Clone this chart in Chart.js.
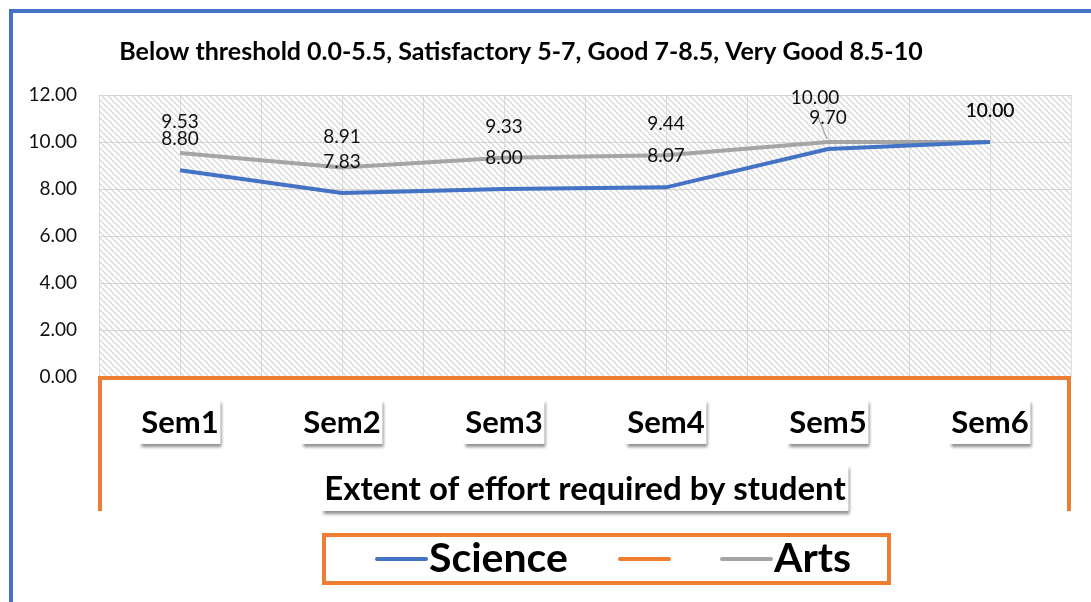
<!DOCTYPE html>
<html><head><meta charset="utf-8">
<script src="https://cdn.jsdelivr.net/npm/chart.js@4.4.1/dist/chart.umd.min.js"></script>
<style>
html,body{margin:0;padding:0;background:#fff;}
#wrap{position:relative;width:1091px;height:602px;overflow:hidden;}
#frame{position:absolute;left:9px;top:9px;width:1200px;height:700px;border-left:4px solid #4472C4;border-top:4px solid #4472C4;pointer-events:none;}
canvas{position:absolute;left:0;top:0;}
</style></head>
<body><div id="wrap"><canvas id="c" width="1091" height="602"></canvas><div id="frame"></div></div>
<script>
const titleText = 'Below threshold 0.0-5.5, Satisfactory 5-7, Good 7-8.5, Very Good 8.5-10';
const xAxisTitle = 'Extent of effort required by student';
const categories = ['Sem1','Sem2','Sem3','Sem4','Sem5','Sem6'];
const science = [8.80, 7.83, 8.00, 8.07, 9.70, 10.00];
const emptySeries = [];
const arts = [9.53, 8.91, 9.33, 9.44, 10.00, 10.00];
const yTicks = [0, 2, 4, 6, 8, 10, 12];

const FONT = 'Lato, "Open Sans", sans-serif';

function makePattern(ctx){
  const s = 6;
  const c = document.createElement('canvas'); c.width = s; c.height = s;
  const g = c.getContext('2d');
  g.fillStyle = '#ffffff'; g.fillRect(0,0,s,s);
  g.strokeStyle = '#dadada'; g.lineWidth = 1.5;
  for (const off of [-s, 0, s]) { g.beginPath(); g.moveTo(off, 0); g.lineTo(off + s, s); g.stroke(); }
  return ctx.createPattern(c, 'repeat');
}

function boxedText(ctx, text, cx, cy, font, padX, h){
  ctx.save();
  ctx.font = font;
  const w = ctx.measureText(text).width + padX*2;
  const x = Math.round(cx - w/2), y = Math.round(cy - h/2);
  ctx.shadowColor = 'rgba(0,0,0,0.45)'; ctx.shadowBlur = 3; ctx.shadowOffsetX = 2; ctx.shadowOffsetY = 3;
  ctx.fillStyle = '#fff'; ctx.fillRect(x, y, w, h);
  ctx.shadowColor = 'transparent';
  ctx.fillStyle = '#000'; ctx.textAlign = 'center'; ctx.textBaseline = 'middle';
  ctx.fillText(text, cx, cy + 1);
  ctx.restore();
}

const decor = {
  id: 'decor',
  beforeDraw(chart){
    const {ctx, chartArea:a, scales} = chart;
    ctx.save();
    ctx.fillStyle = makePattern(ctx);
    ctx.fillRect(a.left, a.top, a.right - a.left, a.bottom - a.top);
    ctx.strokeStyle = 'rgba(200,200,200,0.6)'; ctx.lineWidth = 1;
    categories.forEach((c,i)=>{
      const x = Math.round(scales.x.getPixelForValue(i)) + 0.5;
      ctx.beginPath(); ctx.moveTo(x, a.top); ctx.lineTo(x, a.bottom); ctx.stroke();
    });
    ctx.restore();
  },
  afterDraw(chart){
    const {ctx, chartArea:a, scales} = chart;
    ctx.save();
    ctx.font = 'bold 25px ' + FONT; ctx.fillStyle = '#000';
    ctx.textAlign = 'center'; ctx.textBaseline = 'middle';
    ctx.fillText(titleText, 521, 52);
    ctx.strokeStyle = '#ED7D31'; ctx.lineWidth = 4; ctx.lineJoin = 'miter';
    ctx.beginPath();
    ctx.moveTo(a.left + 1, 511); ctx.lineTo(a.left + 1, a.bottom + 1); ctx.lineTo(a.right - 2, a.bottom + 1); ctx.lineTo(a.right - 2, 511);
    ctx.stroke();
    categories.forEach((c,i)=>{
      boxedText(ctx, c, scales.x.getPixelForValue(i), 422, 'bold 31px ' + FONT, 2, 44);
    });
    boxedText(ctx, xAxisTitle, (a.left + a.right)/2, 488, 'bold 33px ' + FONT, 3, 46);
    // legend
    ctx.strokeStyle = '#ED7D31'; ctx.lineWidth = 4;
    ctx.strokeRect(324, 535, 565, 48);
    const items = chart.data.datasets;
    const lx = [377, 620, 722];
    ctx.font = 'bold 41px ' + FONT; ctx.textAlign = 'left'; ctx.textBaseline = 'middle';
    items.forEach((d, k)=>{
      ctx.strokeStyle = d.borderColor; ctx.lineWidth = 4; ctx.lineCap = 'round';
      ctx.beginPath(); ctx.moveTo(lx[k], 559); ctx.lineTo(lx[k] + 49, 559); ctx.stroke();
      ctx.fillStyle = '#000';
      if (d.label) ctx.fillText(d.label, lx[k] + 52, 559);
    });
    ctx.restore();
  },
  afterDatasetsDraw(chart){
    const {ctx} = chart;
    ctx.save();
    ctx.font = '19px ' + FONT; ctx.fillStyle = '#111';
    ctx.textAlign = 'center'; ctx.textBaseline = 'middle';
    categories.forEach((c, i)=>{
      const labs = [];
      chart.data.datasets.forEach((d, k)=>{
        if (d.data[i] === undefined) return;
        const el = chart.getDatasetMeta(k).data[i];
        labs.push({v: d.data[i], x: el.x, px: el.x, py: el.y, y: el.y - 31, lead: false});
      });
      for (let p = 0; p < labs.length; p++) for (let q = 0; q < labs.length; q++) {
        if (p === q) continue;
        const A = labs[p], B = labs[q];
        const dy = Math.abs(A.y - B.y);
        if (A.v > B.v && dy > 0.5 && dy < 14) { A.y -= 13; A.x -= 13; A.lead = true; }
      }
      labs.forEach(L=>{
        if (L.lead) {
          ctx.strokeStyle = '#8c8c8c'; ctx.lineWidth = 1;
          ctx.beginPath(); ctx.moveTo(L.x + 3, L.y + 19); ctx.lineTo(L.px - 1, L.py - 3); ctx.stroke();
        }
        ctx.fillText(L.v.toFixed(2), L.x, L.y);
      });
    });
    ctx.restore();
  }
};

new Chart(document.getElementById('c'), {
  type: 'line',
  data: {
    labels: categories,
    datasets: [
      {label: 'Science', data: science, borderColor: '#4472C4', backgroundColor: '#4472C4', borderWidth: 4, pointRadius: 0, tension: 0},
      {label: '', data: emptySeries, borderColor: '#ED7D31', backgroundColor: '#ED7D31', borderWidth: 4, pointRadius: 0},
      {label: 'Arts', data: arts, borderColor: '#A5A5A5', backgroundColor: '#A5A5A5', borderWidth: 4, pointRadius: 0, tension: 0}
    ]
  },
  options: {
    responsive: false, animation: false,
    layout: {padding: {left: 0, right: 20, top: 95, bottom: 0}},
    plugins: {legend: {display: false}, title: {display: false}, tooltip: {enabled: false}},
    scales: {
      x: {
        offset: true,
        grid: {display: true, offset: true, color: 'rgba(200,200,200,0.6)', drawTicks: false},
        border: {display: false},
        ticks: {display: false},
        afterFit(s){ s.height = 225; }
      },
      y: {
        min: 0, max: 12,
        afterBuildTicks(s){ s.ticks = yTicks.map(v=>({value: v})); },
        grid: {color: 'rgba(200,200,200,0.7)', drawTicks: false},
        border: {display: false},
        ticks: {padding: 22, font: {family: FONT, size: 19}, color: '#111', callback: v => Number(v).toFixed(2)},
        afterFit(s){ s.width = 99; }
      }
    }
  },
  plugins: [decor]
});
</script></body></html>
